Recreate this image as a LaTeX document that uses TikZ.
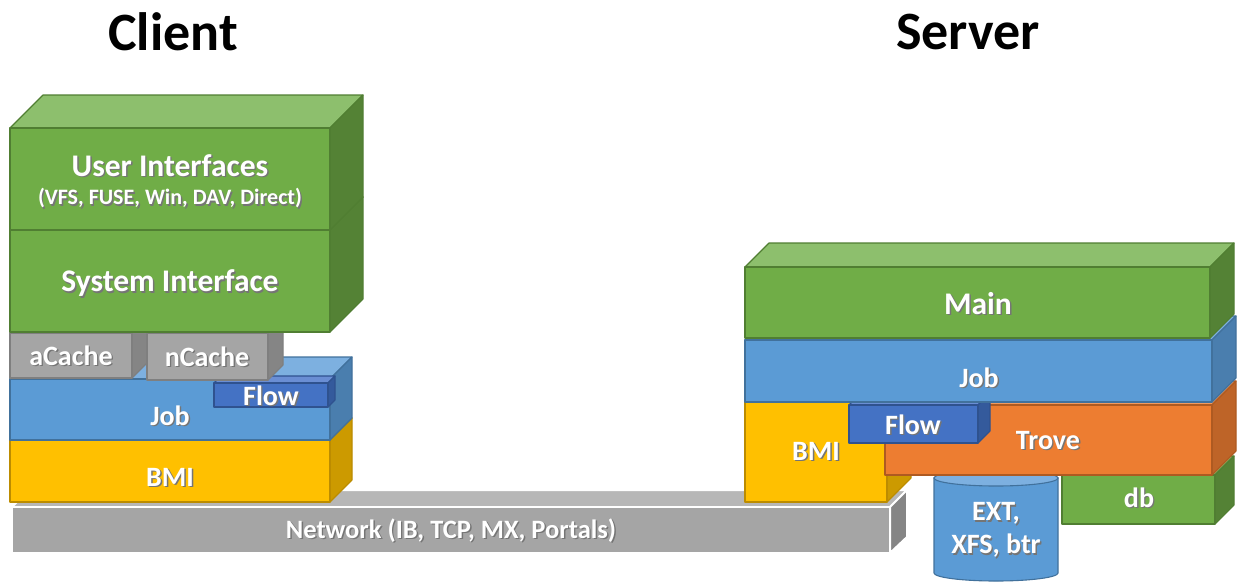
\documentclass[tikz,border=0pt]{standalone}
\usepackage{fontspec}
\setmainfont{Carlito}
\usetikzlibrary{calc}

% face colours
\definecolor{grnF}{HTML}{70AD47}\definecolor{grnT}{HTML}{8DBF6D}\definecolor{grnS}{HTML}{548235}\definecolor{grnB}{HTML}{507E32}
\definecolor{bluF}{HTML}{5B9BD5}\definecolor{bluT}{HTML}{7DB0E0}\definecolor{bluS}{HTML}{4A7EAE}\definecolor{bluB}{HTML}{41719C}
\definecolor{ylwF}{HTML}{FFC000}\definecolor{ylwT}{HTML}{FFD24D}\definecolor{ylwS}{HTML}{CC9A00}\definecolor{ylwB}{HTML}{BC8C00}
\definecolor{orgF}{HTML}{ED7D31}\definecolor{orgT}{HTML}{F29A5E}\definecolor{orgS}{HTML}{BE6428}\definecolor{orgB}{HTML}{AE5A21}
\definecolor{dblF}{HTML}{4472C4}\definecolor{dblT}{HTML}{6A8ED4}\definecolor{dblS}{HTML}{345A9C}\definecolor{dblB}{HTML}{2F528F}
\definecolor{gryF}{HTML}{A5A5A5}\definecolor{gryT}{HTML}{BDBDBD}\definecolor{gryS}{HTML}{858585}\definecolor{gryB}{HTML}{7F7F7F}
\definecolor{netT}{HTML}{B7B7B7}
\definecolor{shadowc}{HTML}{3A3A3A}

% white label with a soft drop shadow
\newcommand\shd[1]{\leavevmode\rlap{\kern1.4pt\raisebox{-1.4pt}{\textcolor{shadowc!70}{#1}}}#1}

% cuboid: #1 colour set, #2 x1, #3 y1, #4 x2, #5 y2, #6 depth, #7 border colour
\newcommand\cuboid[7]{%
  \filldraw[fill=#1T,draw=#7,line width=1.1pt,line join=round]
    (#2,#3) -- ++(#6,-#6) -- (#4+#6,#3-#6) -- (#4,#3) -- cycle;
  \filldraw[fill=#1S,draw=#7,line width=1.1pt,line join=round]
    (#4,#3) -- (#4+#6,#3-#6) -- (#4+#6,#5-#6) -- (#4,#5) -- cycle;
  \filldraw[fill=#1F,draw=#7,line width=1.1pt,line join=round]
    (#2,#3) rectangle (#4,#5);
}

\tikzset{
  lbl/.style={text=white,font=\bfseries\fontsize{28}{30}\selectfont,inner sep=0pt,align=center},
  biglbl/.style={lbl,font=\bfseries\fontsize{31.5}{33}\selectfont},
  title/.style={text=black,font=\bfseries\fontsize{54}{56}\selectfont,inner sep=0pt}
}

\begin{document}
\begin{tikzpicture}[x=1pt,y=-1pt]
\useasboundingbox (0,0) rectangle (1238,586);

% titles
\node[title] (tclient) at (173,32) {Client};
\node[title] (tserver) at (968,32) {Server};

% network slab underneath both stacks
\filldraw[fill=netT,draw=white,line width=2pt,line join=round]
  (12,507) -- (29,490) -- (907,490) -- (890,507) -- cycle;
\filldraw[fill=gryS,draw=white,line width=2pt,line join=round]
  (890,507) -- (907,490) -- (907,537) -- (890,553) -- cycle;
\filldraw[fill=gryF,draw=white,line width=2pt] (12,507) rectangle (890,553);
\node[lbl,font=\bfseries\fontsize{26.5}{28}\selectfont] (net) at (451,531) {\shd{Network (IB, TCP, MX, Portals)}};

% ---------------- client stack ----------------
\cuboid{ylw}{10}{440}{330}{502}{22}{ylwB}
\cuboid{blu}{10}{379}{330}{440}{22}{bluB}
\cuboid{dbl}{214}{383}{328}{407}{7}{dblB}
\cuboid{gry}{10}{333}{132}{378}{15}{gryB}
\cuboid{gry}{147}{333}{268}{380}{15}{gryB}
\cuboid{grn}{10}{230}{330}{332}{33}{grnB}
\cuboid{grn}{10}{128}{330}{230}{33}{grnB}

\node[lbl] (cbmi) at (170,478) {\shd{BMI}};
\node[lbl] (cjob) at (170,416) {\shd{Job}};
\node[lbl] (cflow) at (271,396) {\shd{Flow}};
\node[lbl] (acache) at (71,356) {\shd{aCache}};
\node[lbl] (ncache) at (207,357) {\shd{nCache}};
\node[biglbl] (sysif) at (170,284) {\shd{System Interface}};
\node[biglbl] (uif) at (170,166) {\shd{User Interfaces}};
\node[lbl,font=\bfseries\fontsize{22}{24}\selectfont] (uifsub) at (170,199) {\shd{(VFS, FUSE, Win, DAV, Direct)}};

% ---------------- server stack ----------------
\cuboid{ylw}{745}{402}{887}{502}{24}{ylwB}

% storage cylinder (y axis points down, so the lower rim runs through 90 degrees)
\filldraw[fill=bluF,draw=bluB,line width=1.1pt]
  (934,478) -- (934,573) arc[start angle=180,end angle=0,x radius=62,y radius=8]
  -- (1058,478) -- cycle;
\filldraw[fill=bluT,draw=bluB,line width=1.1pt] (996,478) ellipse[x radius=62,y radius=8];

\cuboid{grn}{1062}{475}{1215}{524}{19}{grnB}
\cuboid{org}{885}{405}{1212}{475}{24}{orgB}
\cuboid{dbl}{849}{405}{978}{443}{12}{dblB}
\cuboid{blu}{745}{340}{1212}{402}{24}{bluB}
\cuboid{grn}{745}{267}{1210}{338}{24}{grnB}

\node[biglbl] (main) at (978,304) {\shd{Main}};
\node[lbl] (sjob) at (979,378) {\shd{Job}};
\node[lbl] (sflow) at (913,425) {\shd{Flow}};
\node[lbl] (sbmi) at (816,452) {\shd{BMI}};
\node[lbl] (trove) at (1048,441) {\shd{Trove}};
\node[lbl] (db) at (1139,498) {\shd{db}};
\node[lbl] (fs) at (996,531) {\shd{EXT,}\\[3pt]\shd{XFS, btr}};
\end{tikzpicture}
\end{document}
